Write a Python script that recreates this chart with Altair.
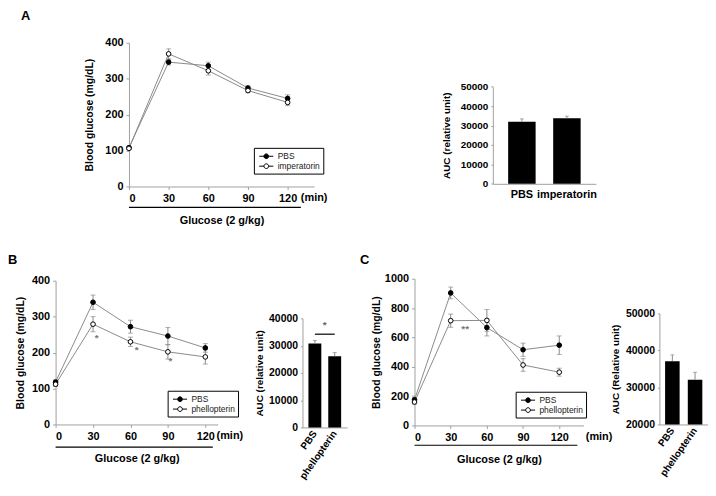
import altair as alt
import pandas as pd

W, H = 706, 474
FONT = "Liberation Sans"
GRAY = "#8a8a8a"
AXG = "#a0a0a0"

minutes = [0, 30, 60, 90, 120]

# ---- Panel A ----
a_groups = ["PBS", "imperatorin"]
a_pbs = [108, 346, 336, 274, 245]
a_pbs_err = [3, 8, 10, 6, 10]
a_imp = [106, 369, 322, 267, 234]
a_imp_err = [3, 14, 12, 6, 9]
a_auc = [32000, 33700]
a_auc_err = [1400, 1100]

# ---- Panel B ----
b_groups = ["PBS", "phellopterin"]
b_pbs = [118, 340, 272, 246, 213]
b_pbs_err = [6, 20, 18, 24, 12]
b_phe = [112, 279, 230, 202, 188]
b_phe_err = [6, 21, 13, 20, 20]
b_auc = [30800, 26100]
b_auc_err = [1100, 1400]
b_star_t = [33, 65, 92]
b_star_v = [240, 207, 176]

# ---- Panel C ----
c_groups = ["PBS", "phellopterin"]
c_pbs = [175, 903, 667, 516, 547]
c_pbs_err = [15, 40, 57, 45, 63]
c_phe = [160, 714, 716, 412, 363]
c_phe_err = [15, 45, 74, 43, 27]
c_auc = [37100, 32100]
c_auc_err = [1700, 2000]
c_star_t = [42]
c_star_v = [655]

SYMBOL = "M-1.5,0H-0.5M0.5,0H1.5M-0.5,0A0.5,0.5,0,1,1,0.5,0A0.5,0.5,0,1,1,-0.5,0"


def axis(**kw):
    base = dict(grid=False, labelFont=FONT, labelFontWeight="bold", labelColor="black",
                titleFont=FONT, titleFontWeight="bold", titleColor="black",
                domainColor=AXG, tickColor=AXG)
    base.update(kw)
    return alt.Axis(**base)


def line_df(groups, s1, e1, s2, e2):
    rows = []
    for g, vals, errs in ((groups[0], s1, e1), (groups[1], s2, e2)):
        for t, v, e in zip(minutes, vals, errs):
            rows.append({"t": t, "v": v, "lo": v - e, "hi": v + e, "s": g})
    return pd.DataFrame(rows)


def line_panel(df, groups, xdom, xrng, ydom, yrng, yticks, lx, ly, under_end, under_v,
               min_t, star_t, star_v, star_txt, ytpad, yfs):
    xs = alt.Scale(domain=xdom, range=xrng, nice=False, zero=False)
    ys = alt.Scale(domain=ydom, range=yrng, nice=False, zero=False)
    xax = axis(orient="bottom", offset=yrng[0] - H, values=minutes, title="Glucose (2 g/kg)",
               format="d", labelFontSize=11, titleFontSize=11, tickSize=3, labelPadding=3,
               titlePadding=11)
    yax = axis(orient="left", offset=-xrng[0], values=yticks, title="Blood glucose (mg/dL)",
               format="d", labelFontSize=yfs, titleFontSize=10.5, tickSize=3, labelPadding=3,
               titlePadding=ytpad)

    def X(f):
        return alt.X(f, type="quantitative", scale=xs, axis=xax)

    def Y(f):
        return alt.Y(f, type="quantitative", scale=ys, axis=yax)

    base = alt.Chart(df)
    lines = base.mark_line(color=GRAY, strokeWidth=1).encode(x=X("t"), y=Y("v"), detail="s:N")
    err = base.mark_rule(color=GRAY, strokeWidth=1).encode(x=X("t"), y=Y("lo"), y2="hi")
    cap_lo = base.mark_tick(orient="horizontal", color=GRAY, size=5, thickness=1).encode(x=X("t"), y=Y("lo"))
    cap_hi = base.mark_tick(orient="horizontal", color=GRAY, size=5, thickness=1).encode(x=X("t"), y=Y("hi"))
    pts = base.mark_circle(size=22, opacity=1, stroke="black", strokeWidth=1).encode(
        x=X("t"), y=Y("v"),
        fill=alt.Fill("s:N", scale=alt.Scale(domain=groups, range=["black", "white"]),
                      legend=alt.Legend(orient="none", legendX=lx, legendY=ly, title=None,
                                        direction="vertical", strokeColor="black", padding=3,
                                        symbolType=SYMBOL, symbolSize=90, symbolStrokeColor="black",
                                        symbolStrokeWidth=1, symbolOffset=4, labelFont=FONT,
                                        labelFontSize=8.5, labelColor="#222", labelOffset=6,
                                        rowPadding=0)))
    under = alt.Chart(pd.DataFrame({"t": [0], "t2": [under_end], "v": [under_v]})).mark_rule(
        color="black", strokeWidth=1.2).encode(x=X("t"), x2="t2", y=Y("v"))
    mint = alt.Chart(pd.DataFrame({"t": [min_t], "v": [0], "lab": ["(min)"]})).mark_text(
        align="left", baseline="top", dy=6, font=FONT, fontWeight="bold", fontSize=11,
        color="black").encode(x=X("t"), y=Y("v"), text="lab:N")
    layers = [lines, err, cap_lo, cap_hi, pts, under, mint]
    if star_t:
        stars = alt.Chart(pd.DataFrame({"t": star_t, "v": star_v, "lab": [star_txt] * len(star_t)})).mark_text(
            font=FONT, fontWeight="bold", fontSize=10, color="#777", baseline="middle").encode(
            x=X("t"), y=Y("v"), text="lab:N")
        layers.append(stars)
    return alt.layer(*layers)


def bar_panel(groups, vals, errs, xrng, pi, po, ydom, yrng, yticks, ytitle, angle, base_v,
              ytpad, yfs, xfs, sig=None):
    df = pd.DataFrame({"g": groups, "v": vals, "hi": [v + e for v, e in zip(vals, errs)],
                       "base": [base_v] * len(groups)})
    xs = alt.Scale(domain=groups, range=xrng, paddingInner=pi, paddingOuter=po)
    ys = alt.Scale(domain=ydom, range=yrng, nice=False, zero=False)
    if angle == 0:
        xax = axis(orient="bottom", offset=yrng[0] - H, title=None, ticks=False, labelAngle=0,
                   labelFontSize=xfs, labelPadding=5)
    else:
        xax = axis(orient="bottom", offset=yrng[0] - H, title=None, ticks=False, labelAngle=angle,
                   labelAlign="right", labelBaseline="middle", labelFontSize=xfs, labelPadding=4)
    yax = axis(orient="left", offset=-xrng[0], values=yticks, title=ytitle, format="d",
               labelFontSize=yfs, titleFontSize=10, tickSize=2, labelPadding=3, titlePadding=ytpad)

    def X(f):
        return alt.X(f, type="nominal", scale=xs, axis=xax)

    def Y(f):
        return alt.Y(f, type="quantitative", scale=ys, axis=yax)

    base = alt.Chart(df)
    bars = base.mark_bar(color="black").encode(x=X("g"), y=Y("v"), y2="base")
    err = base.mark_rule(color=GRAY, strokeWidth=1).encode(x=X("g"), y=Y("v"), y2="hi")
    cap = base.mark_tick(orient="horizontal", color=GRAY, size=4, thickness=1).encode(x=X("g"), y=Y("hi"))
    layers = [bars, err, cap]
    if sig is not None:
        sdf = pd.DataFrame({"g": [groups[0]], "g2": [groups[1]], "v": [sig[0]]})
        line = alt.Chart(sdf).mark_rule(color="black", strokeWidth=1.2).encode(x=X("g"), x2="g2", y=Y("v"))
        tdf = pd.DataFrame({"g": [groups[0]], "v": [sig[1]], "lab": ["*"]})
        star = alt.Chart(tdf).mark_text(font=FONT, fontWeight="bold", fontSize=10, color="#666",
                                        dx=sig[2]).encode(x=X("g"), y=Y("v"), text="lab:N")
        layers += [line, star]
    return alt.layer(*layers)


def letter(ch, x, y):
    return alt.Chart(pd.DataFrame({"l": [ch]})).mark_text(
        font=FONT, fontWeight="bold", fontSize=13, align="left", baseline="top", color="black"
    ).encode(x=alt.value(x), y=alt.value(y), text="l:N")


pA = line_panel(line_df(a_groups, a_pbs, a_pbs_err, a_imp, a_imp_err), a_groups,
                [0, 140], [122, 308.7], [0, 400], [178, 33], [0, 100, 200, 300, 400],
                248, 139, 130, -58, 130, [], [], "*", 10, 11)
pAb = bar_panel(a_groups, a_auc, a_auc_err, [489, 593], 0.39, 0.34, [0, 50000], [175.3, 77.3],
                [0, 10000, 20000, 30000, 40000, 50000], "AUC (relative unit)", 0, 0, 9, 10, 11)

pB = line_panel(line_df(b_groups, b_pbs, b_pbs_err, b_phe, b_phe_err), b_groups,
                [0, 130], [48, 211.6], [0, 400], [418, 273], [0, 100, 200, 300, 400],
                161, 384, 126, -63, 129, b_star_t, b_star_v, "*", 6, 11)
pBb = bar_panel(b_groups, b_auc, b_auc_err, [297, 342], 0.35, 0.3, [0, 40000], [421, 311],
                [0, 10000, 20000, 30000, 40000], "AUC (relative unit)", -55, 0, 4, 10.5, 10,
                sig=(34200, 37500, 10))

pC = line_panel(line_df(c_groups, c_pbs, c_pbs_err, c_phe, c_phe_err), c_groups,
                [0, 140], [410, 580.3], [0, 1000], [419, 271], [0, 200, 400, 600, 800, 1000],
                512, 385, 135, -135, 142, c_star_t, c_star_v, "**", 3, 11)
pCb = bar_panel(c_groups, c_auc, c_auc_err, [657, 706], 0.36, 0.25, [20000, 50000], [418, 306],
                [20000, 30000, 40000, 50000], "AUC (Relative unit)", -55, 20000, 5, 10.5, 10)

chart = alt.layer(
    pA, pAb, pB, pBb, pC, pCb,
    letter("A", 13, 0), letter("B", 0, 246), letter("C", 355, 246)
).resolve_scale(
    x="independent", y="independent", fill="independent"
).resolve_axis(
    x="independent", y="independent"
).resolve_legend(
    fill="independent"
).properties(
    width=W, height=H, padding=0, autosize=alt.AutoSizeParams(type="none"),
    background="white"
).configure_view(stroke=None)

chart.save("out.html", embed_options={"renderer": "svg", "actions": False})
